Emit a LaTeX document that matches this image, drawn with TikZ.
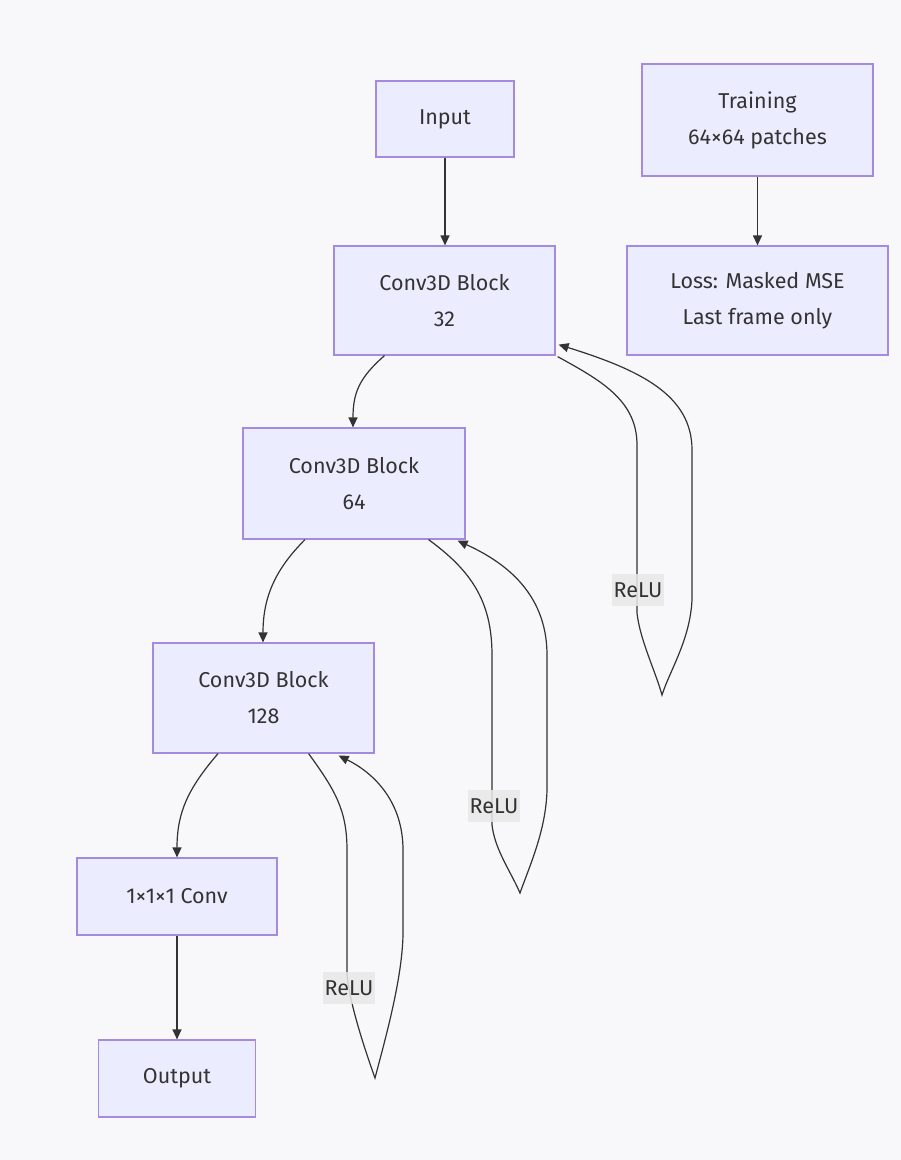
\documentclass[tikz,border=0pt]{standalone}
\usepackage{fontspec}
\setmainfont{Fira Sans}
\usetikzlibrary{arrows.meta,calc}
\definecolor{nodefill}{HTML}{ECECFF}
\definecolor{nodeline}{HTML}{A48BE0}
\definecolor{txt}{HTML}{333333}
\definecolor{bgc}{HTML}{F8F8FA}
\definecolor{lblbg}{HTML}{E8E8E8}
\begin{document}
\begin{tikzpicture}[x=1pt,y=-1pt,
  box/.style={draw=nodeline, line width=1.2pt, fill=nodefill, text=txt, align=center,
    font=\fontsize{21.5}{36}\selectfont, inner sep=0pt},
  link/.style={draw=txt, line width=1.2pt, -{Triangle[length=10pt,width=9pt]}},
  lbl/.style={fill=lblbg, fill opacity=0.85, text opacity=1, text=txt,
    font=\fontsize{21.5}{24}\selectfont, inner sep=2pt, minimum height=32pt}]
\useasboundingbox (0,0) rectangle (901,1160);
\fill[bgc] (0,0) rectangle (901,1160);

\node[box, minimum width=138pt, minimum height=76pt] (input) at (445,119) {Input};
\node[box, minimum width=231pt, minimum height=112pt] (train) at (757.5,120) {Training\\64×64 patches};
\node[box, minimum width=221pt, minimum height=109pt] (conv1) at (444.5,300.5) {Conv3D Block\\32};
\node[box, minimum width=261pt, minimum height=109pt] (loss) at (757.5,300.5) {Loss: Masked MSE\\Last frame only};
\node[box, minimum width=222pt, minimum height=111pt] (conv2) at (354,483.5) {Conv3D Block\\64};
\node[box, minimum width=221pt, minimum height=110pt] (conv3) at (263.5,698) {Conv3D Block\\128};
\node[box, minimum width=200pt, minimum height=77pt] (onex) at (177,896.5) {1×1×1 Conv};
\node[box, minimum width=157pt, minimum height=77pt] (output) at (177,1078.5) {Output};

% straight links
\draw[link] (input.south) -- (input.south |- conv1.north);
\draw[link] (train.south) -- (train.south |- loss.north);
\draw[link] (onex.south) -- (onex.south |- output.north);

% curved links
\draw[link] ($(conv1.south)+(-60,0)$) .. controls +(-25,22) and +(0,-35) .. ($(conv2.north)+(-1,0)$);
\draw[link] ($(conv2.south)+(-49,0)$) .. controls +(-30,30) and +(0,-45) .. ($(conv3.north)+(-0.5,0)$);
\draw[link] ($(conv3.south)+(-45.5,0)$) .. controls +(-30,35) and +(0,-45) .. (onex.north);

% self loops
\coordinate (t1) at (662,695);
\draw[link] ($(conv1.south east)+(2,1)$) .. controls (600,380) and (637,400) .. (637,445)
  -- (637,613) .. controls (640,640) and (655,670) .. (t1)
  .. controls (670,670) and (690,640) .. (692,600) -- (692,450)
  .. controls (692,395) and (640,370) .. ($(conv1.south east)+(3,-11)$);
\coordinate (t2) at (520,893);
\draw[link] ($(conv2.south east)+(-37,0)$) .. controls (470,570) and (492,600) .. (492,655)
  -- (492,825) .. controls (495,850) and (510,870) .. (t2)
  .. controls (530,865) and (546,830) .. (547,790) -- (547,655)
  .. controls (547,590) and (500,560) .. ($(conv2.south east)+(-8,1)$);
\coordinate (t3) at (375,1078);
\draw[link] ($(conv3.south east)+(-66,0)$) .. controls (335,790) and (347,810) .. (347,850)
  -- (347,975) .. controls (350,1005) and (365,1050) .. (t3)
  .. controls (385,1040) and (402,980) .. (403,935) -- (403,850)
  .. controls (403,800) and (372,772) .. ($(conv3.south east)+(-36,2)$);

\node[lbl] (r1) at (638,590) {ReLU};
\node[lbl] (r2) at (494,806) {ReLU};
\node[lbl] (r3) at (349,988) {ReLU};
\end{tikzpicture}
\end{document}
